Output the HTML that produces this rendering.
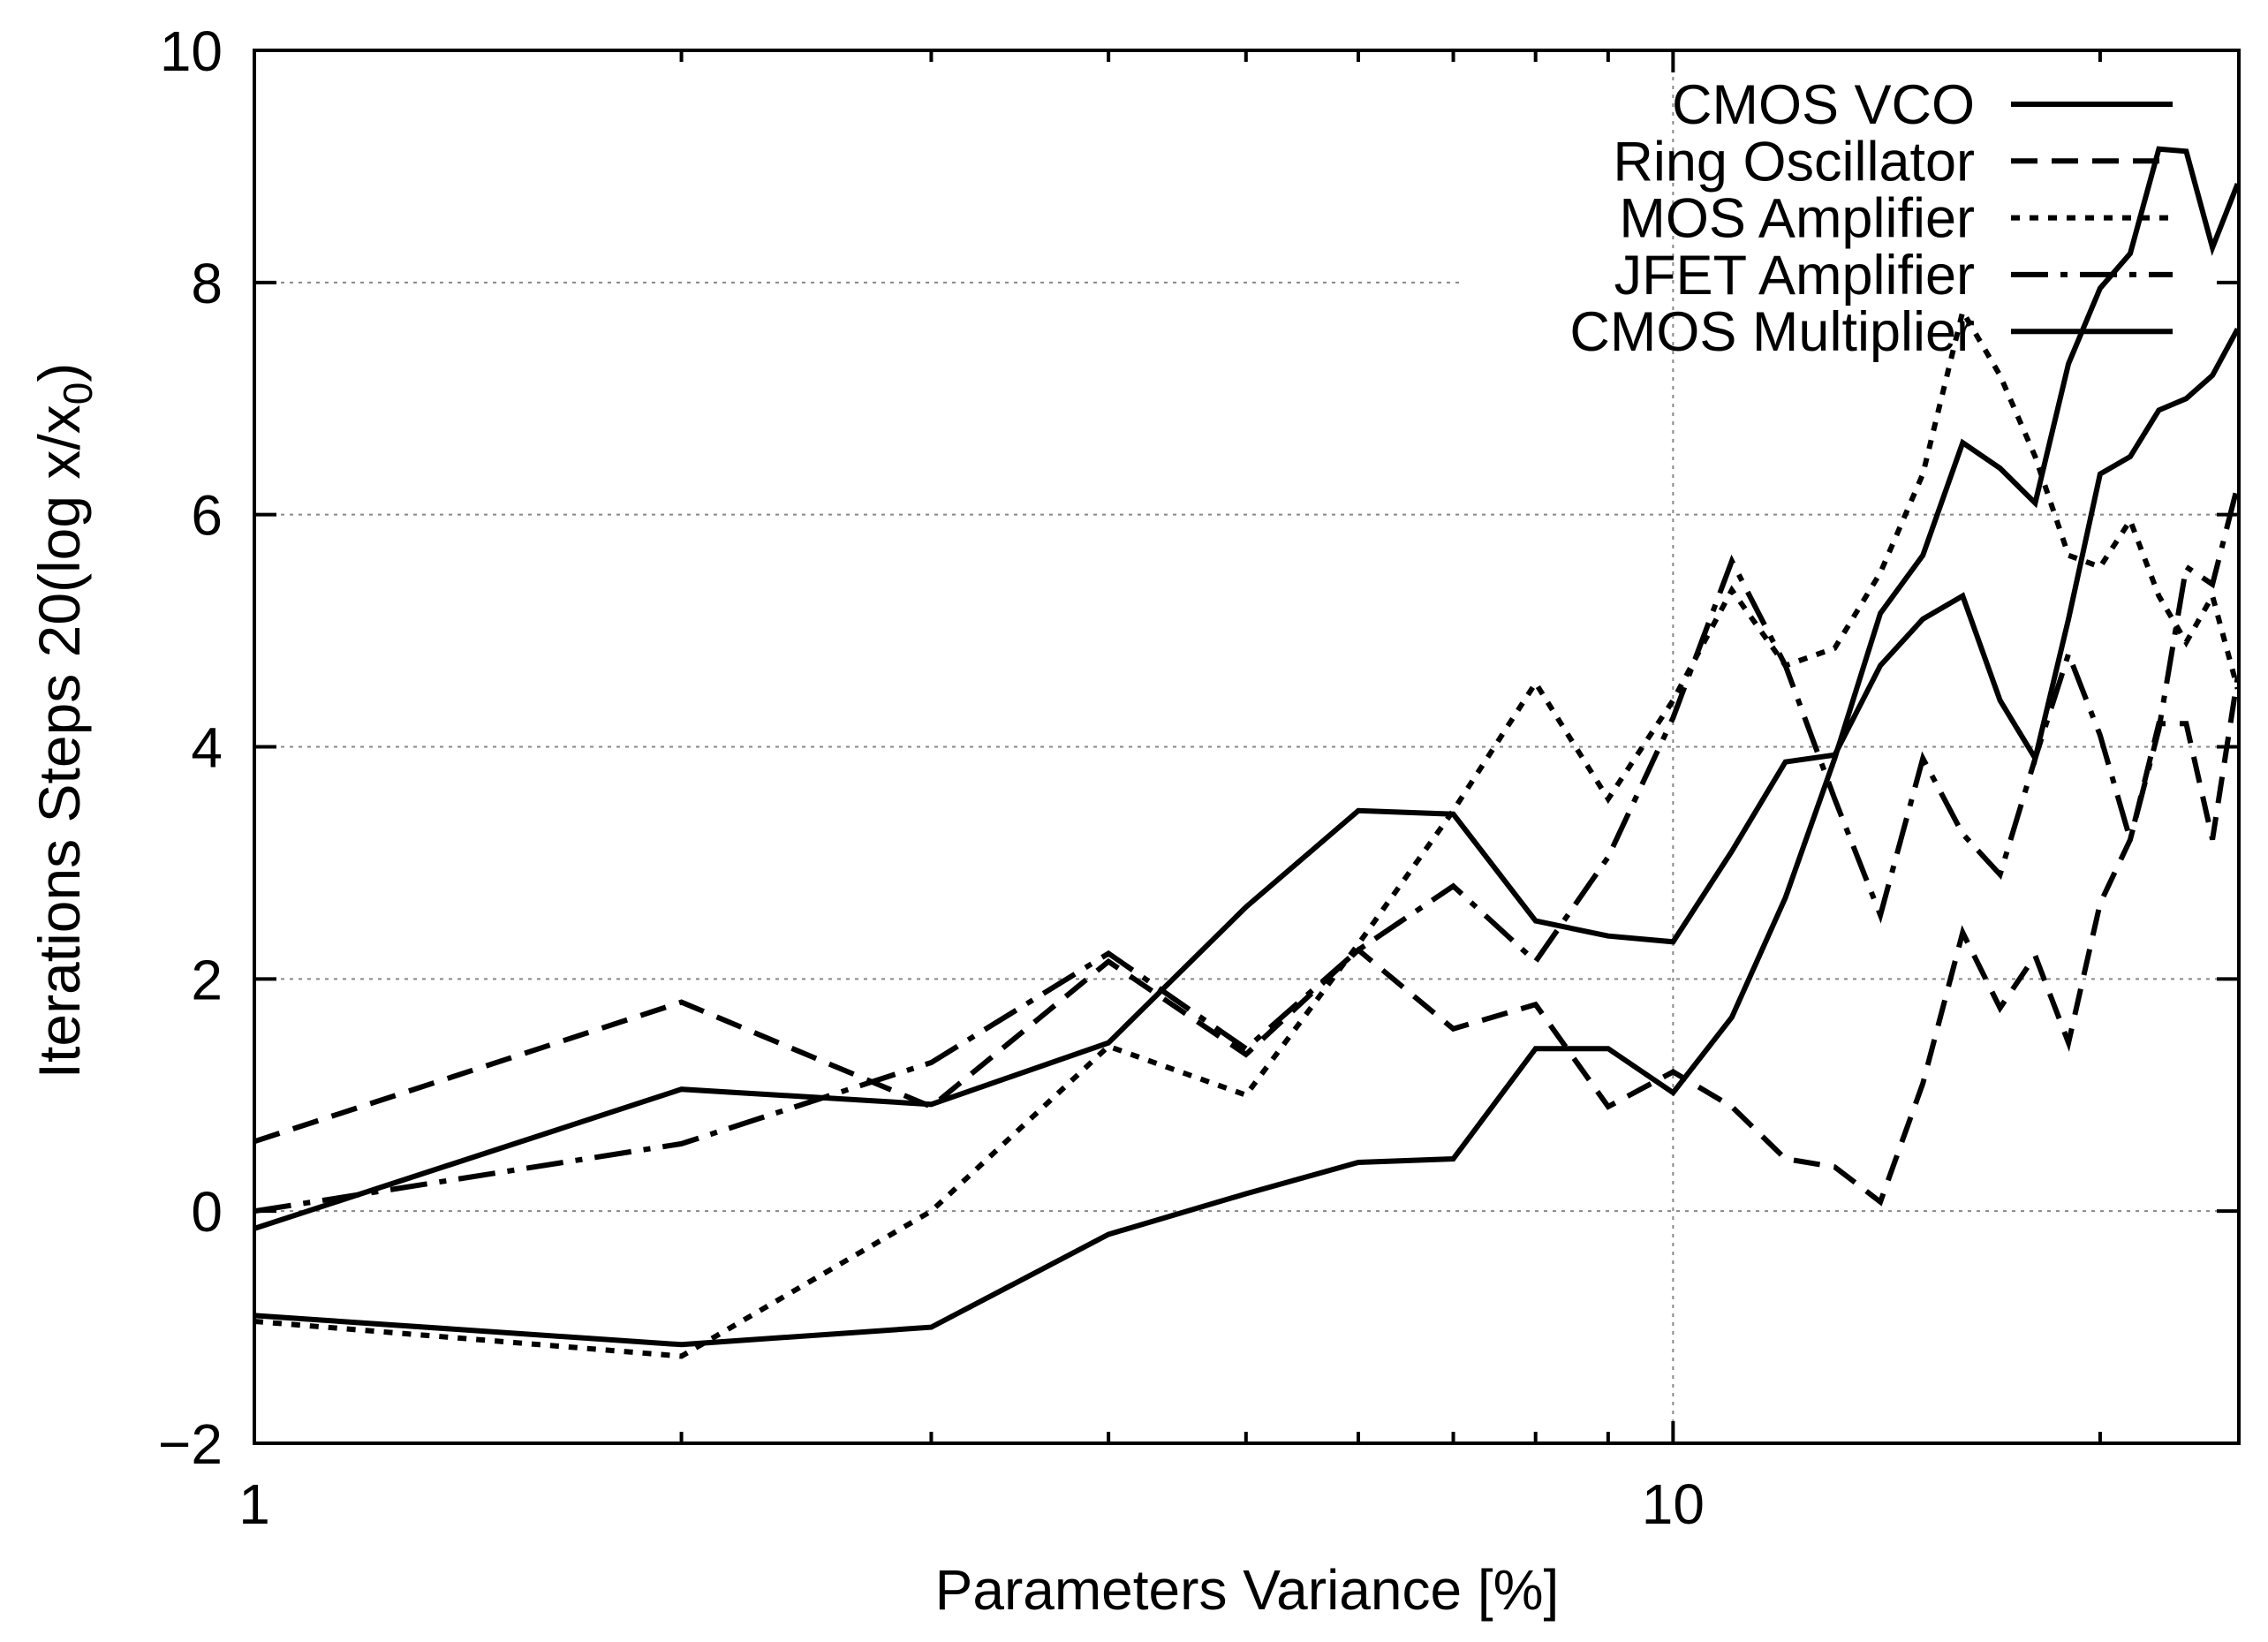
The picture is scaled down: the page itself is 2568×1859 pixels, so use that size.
<!DOCTYPE html>
<html><head><meta charset="utf-8"><style>
html,body{margin:0;padding:0;background:#fff;}
svg{display:block;font-family:"Liberation Sans",sans-serif;}
</style></head><body>
<svg id="chart" width="2568" height="1859" viewBox="0 0 2568 1859" xmlns="http://www.w3.org/2000/svg">
<rect width="2568" height="1859" fill="#fff"/>
<g id="grid"></g>
<g id="series"></g>
<g id="axes"></g>
<g id="legend"></g>
<text x="1412" y="1822" font-size="64" text-anchor="middle">Parameters Variance [%]</text>
<text transform="translate(90,816) rotate(-90)" font-size="66" text-anchor="middle">Iterations Steps 20(log x/x<tspan font-size="46" dy="14">0</tspan><tspan dy="-14">)</tspan></text>
</svg>
<script>
const xValues = [1,2,3,4,5,6,7,8,9,10,11,12,13,14,15,16,17,18,19,20,21,22,23,24,25];
const cmosVco = [-0.15,1.05,0.92,1.45,2.62,3.45,3.42,2.5,2.37,2.32,3.1,3.87,3.93,4.7,5.1,5.3,4.4,3.9,5.1,6.35,6.5,6.9,7.0,7.2,7.6];
const ringOsc = [0.6,1.8,0.9,2.15,1.35,2.25,1.57,1.78,0.9,1.2,0.9,0.45,0.38,0.08,1.1,2.4,1.75,2.2,1.45,2.65,3.2,4.2,4.2,3.2,4.6];
const mosAmp = [-0.95,-1.25,0.0,1.42,1.0,2.3,3.45,4.55,3.55,4.4,5.35,4.7,4.85,5.5,6.35,7.75,7.2,6.5,5.65,5.55,5.95,5.3,4.9,5.3,4.5];
const jfetAmp = [0.0,0.58,1.28,2.22,1.4,2.25,2.8,2.15,3.05,4.25,5.6,4.7,3.55,2.55,3.9,3.25,2.9,3.9,4.8,4.1,3.2,4.15,5.55,5.4,6.25];
const cmosMult = [-0.9,-1.15,-1.0,-0.2,0.15,0.42,0.45,1.4,1.4,1.02,1.67,2.7,3.9,5.15,5.65,6.62,6.4,6.1,7.3,7.95,8.25,9.15,9.13,8.3,8.85];
const seriesNames = ["CMOS VCO","Ring Oscillator","MOS Amplifier","JFET Amplifier","CMOS Multiplier"];
const yTicks = [-2,0,2,4,6,8,10];
const yTickLabels = ["\u22122","0","2","4","6","8","10"];
const xMajorTicks = [1,10];
const xMinorTicks = [2,3,4,5,6,7,8,9,20];

const L=288,R=2535,T=57,B=1634,XMAX=25.05;
const NS="http://www.w3.org/2000/svg";
function xs(v){return L+(R-L)*Math.log10(v)/Math.log10(XMAX);}
function ys(v){return B-(B-T)*(v+2)/12;}
function mk(tag,attrs,parent){const e=document.createElementNS(NS,tag);for(const k in attrs)e.setAttribute(k,attrs[k]);parent.appendChild(e);return e;}
const grid=document.getElementById('grid'),axes=document.getElementById('axes'),ser=document.getElementById('series'),leg=document.getElementById('legend');

yTicks.forEach((t,i)=>{
  const y=ys(t);
  if(t>-2&&t<10){
    const g=mk('line',{x1:L,x2:(t===8?1654:R),y1:y,y2:y,stroke:'#888','stroke-width':2,'stroke-dasharray':'4 6'},grid);
    
    
  }
  const a=mk('line',{x1:L,x2:L+25,y1:y,y2:y,stroke:'#000','stroke-width':4},axes);
  
  
  const b=mk('line',{x1:R-25,x2:R,y1:y,y2:y,stroke:'#000','stroke-width':4},axes);
  
  
  const tx=mk('text',{x:252,y:y+23,'font-size':64,'text-anchor':'end'},axes);
  tx.textContent=yTickLabels[i];
  
  
});
xMajorTicks.forEach(t=>{
  const x=xs(t);
  if(t>1){
    const g=mk('line',{x1:x,x2:x,y1:T,y2:B,stroke:'#888','stroke-width':2,'stroke-dasharray':'4 6'},grid);
    
    
  }
  const a=mk('line',{x1:x,x2:x,y1:B,y2:B-25,stroke:'#000','stroke-width':4},axes);
  
  
  const b=mk('line',{x1:x,x2:x,y1:T,y2:T+25,stroke:'#000','stroke-width':4},axes);
  
  
  const tx=mk('text',{x:x,y:1725,'font-size':64,'text-anchor':'middle'},axes);
  tx.textContent=String(t);
  
  
});
xMinorTicks.forEach(t=>{
  const x=xs(t);
  const a=mk('line',{x1:x,x2:x,y1:B,y2:B-13,stroke:'#000','stroke-width':4},axes);
  
  
  const b=mk('line',{x1:x,x2:x,y1:T,y2:T+13,stroke:'#000','stroke-width':4},axes);
  
  
});
const frame=mk('rect',{x:L,y:T,width:R-L,height:B-T,fill:'none',stroke:'#000','stroke-width':4},axes);



const dataSets=[cmosVco,ringOsc,mosAmp,jfetAmp,cmosMult];
const dashes=['','30 16','10 11','42 14 8 14',''];
const keys=['cmos-vco','ring-oscillator','mos-amplifier','jfet-amplifier','cmos-multiplier'];
dataSets.forEach((d,i)=>{
  const pts=d.map((v,j)=>xs(xValues[j]).toFixed(1)+','+ys(v).toFixed(1)).join(' ');
  const attrs={points:pts,fill:'none',stroke:'#000','stroke-width':6,'stroke-linejoin':'miter'};
  if(dashes[i])attrs['stroke-dasharray']=dashes[i];
  const p=mk('polyline',attrs,ser);
  
  
  const ly=118+i*64.3;
  const tx=mk('text',{x:2236,y:ly+22,'font-size':63,'text-anchor':'end'},leg);
  tx.textContent=seriesNames[i];
  
  
  const la={x1:2277,x2:2460,y1:ly,y2:ly,stroke:'#000','stroke-width':6};
  if(dashes[i])la['stroke-dasharray']=dashes[i];
  const ln=mk('line',la,leg);
  
  
});
</script>
</body></html>
